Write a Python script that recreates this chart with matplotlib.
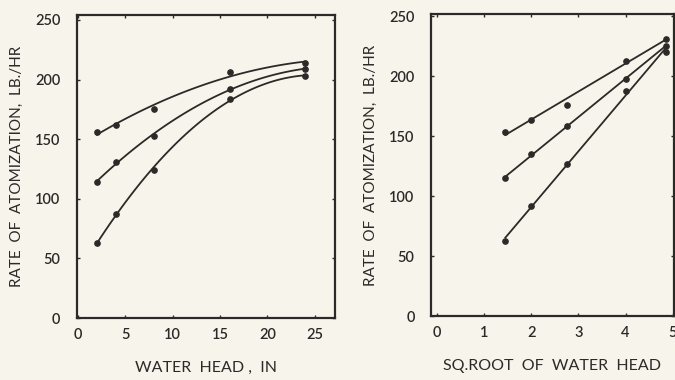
import numpy as np
import matplotlib.pyplot as plt

# water head (in) and its square root
head = [2, 4, 8, 16, 24]
root_head = [1.45, 2.0, 2.75, 4.0, 4.85]

# rate of atomization, lb/hr, three runs
rate_hi = [156, 162, 175, 206, 214]
rate_mid = [114, 131, 153, 192, 209]
rate_lo = [63, 87, 124, 184, 203]

root_hi = [154, 164, 176, 213, 231]
root_mid = [115, 135, 159, 198, 225]
root_lo = [63, 92, 127, 188, 220]

INK = '#2b2a28'
PAPER = '#f7f5eb'

plt.rcParams['font.family'] = ['Lato', 'DejaVu Sans']
plt.rcParams['text.color'] = INK

fig = plt.figure(figsize=(6.75, 3.8), dpi=100)
fig.patch.set_facecolor(PAPER)
ax1 = fig.add_axes([0.114, 0.163, 0.382, 0.797])
ax2 = fig.add_axes([0.639, 0.168, 0.359, 0.795])


def style(ax):
    ax.set_facecolor(PAPER)
    for sp in ax.spines.values():
        sp.set_color(INK)
        sp.set_linewidth(1.6)
    ax.tick_params(direction='in', length=2, width=1, color=INK,
                   top=True, right=True, labelsize=10.5, labelcolor=INK)
    ax.tick_params(axis='x', pad=7)
    ax.tick_params(axis='y', pad=12)
    for lb in ax.get_xticklabels() + ax.get_yticklabels():
        lb.set_fontweight('semibold')
    ax.set_ylabel('RATE  OF  ATOMIZATION,  LB./HR', fontsize=11,
                  labelpad=8, color=INK)


# left: curves against water head
xs = np.linspace(2, 24, 100)
for ys in (rate_hi, rate_mid, rate_lo):
    c = np.polyfit(head, ys, 2)
    ax1.plot(xs, np.polyval(c, xs), color=INK, lw=1.3)
    ax1.plot(head, ys, 'o', color=INK, ms=3.8)
ax1.set_xlim(-0.1, 27.1)
ax1.set_ylim(0, 254)
ax1.set_xticks([0, 5, 10, 15, 20, 25])
ax1.set_yticks([0, 50, 100, 150, 200, 250])
ax1.set_xlabel('WATER  HEAD ,  IN', fontsize=11.5, labelpad=14, color=INK)
style(ax1)

# right: straight lines against square root of head
xr = np.linspace(1.45, 4.85, 50)
for ys in (root_hi, root_mid, root_lo):
    c = np.polyfit(root_head, ys, 1)
    ax2.plot(xr, np.polyval(c, xr), color=INK, lw=1.3)
    ax2.plot(root_head, ys, 'o', color=INK, ms=3.8)
ax2.set_xlim(-0.12, 5.02)
ax2.set_ylim(0, 252)
ax2.set_xticks([0, 1, 2, 3, 4, 5])
ax2.set_yticks([0, 50, 100, 150, 200, 250])
ax2.set_xlabel('SQ.ROOT  OF  WATER  HEAD', fontsize=11.5, labelpad=14, color=INK)
style(ax2)

fig.savefig('out.png', dpi=100, facecolor=PAPER)
